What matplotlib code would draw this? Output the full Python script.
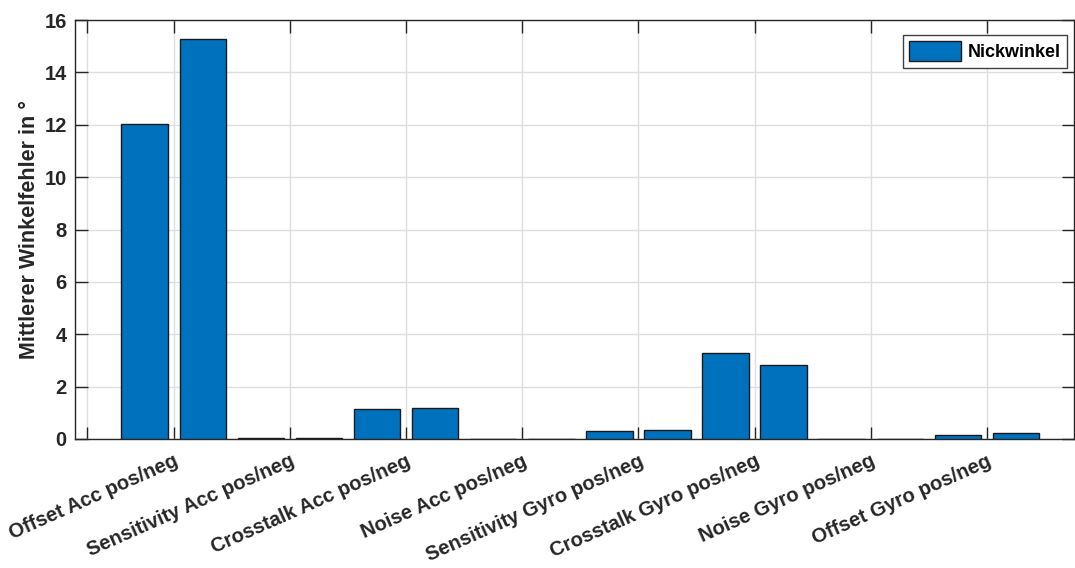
import matplotlib
matplotlib.use("Agg")
import matplotlib.pyplot as plt
import numpy as np

plt.rcParams['font.family'] = ['Liberation Sans', 'DejaVu Sans']
plt.rcParams['font.weight'] = 'bold'

# Mean pitch-angle error for each disturbance, positive then negative case
categories = [
    "Offset Acc pos/neg",
    "Sensitivity Acc pos/neg",
    "Crosstalk Acc pos/neg",
    "Noise Acc pos/neg",
    "Sensitivity Gyro pos/neg",
    "Crosstalk Gyro pos/neg",
    "Noise Gyro pos/neg",
    "Offset Gyro pos/neg",
]
nickwinkel = [12.02, 15.28, 0.05, 0.05, 1.15, 1.18, 0.01, 0.01,
              0.30, 0.33, 3.29, 2.84, 0.01, 0.01, 0.16, 0.24]
series_name = "Nickwinkel"
y_ticks = [0, 2, 4, 6, 8, 10, 12, 14, 16]

text_col = '#262626'
bar_col = '#0072BD'

fig = plt.figure(figsize=(10.75, 5.68), dpi=100)
ax = fig.add_axes([75 / 1075, 1 - 439 / 568, 999 / 1075, 419 / 568])

x = np.arange(1, len(nickwinkel) + 1)
ax.bar(x, nickwinkel, width=0.8, color=bar_col, edgecolor='#1a1a1a',
       linewidth=1.0, label=series_name, zorder=3)

# one tick between each pos/neg pair, plus an unlabeled tick at 0
pair_centers = list(np.arange(1.5, len(nickwinkel) + 1, 2))
ax.set_xticks([0] + pair_centers)
ax.set_xticklabels([''] + categories, rotation=24, ha='right',
                   rotation_mode='anchor', fontsize=14.5, fontweight='bold',
                   color=text_col)
ax.set_xlim(-0.2, 17.0)
ax.set_ylim(0, 16)
ax.set_yticks(y_ticks)
ax.set_yticklabels([str(v) for v in y_ticks], fontsize=14.5,
                   fontweight='bold', color=text_col)

ax.tick_params(direction='in', length=9, width=1.0, color=text_col,
               top=True, right=True, pad=6)
ax.tick_params(axis='x', pad=9)
for s in ax.spines.values():
    s.set_color(text_col)
    s.set_linewidth(1.0)

ax.grid(True, color='#dedede', linewidth=1.0, zorder=0)
ax.set_axisbelow(True)

ax.set_ylabel("Mittlerer Winkelfehler in °", fontsize=15.5,
              fontweight='bold', color=text_col, labelpad=3)

leg = ax.legend(loc='upper right', bbox_to_anchor=(0.993, 0.964),
                frameon=True, fancybox=False,
                handlelength=2.9, handleheight=1.3, handletextpad=0.35,
                borderpad=0.35, borderaxespad=0.0,
                prop={'weight': 'bold', 'size': 13})
leg.get_frame().set_edgecolor('#404040')
leg.get_frame().set_linewidth(1.0)
leg.get_frame().set_alpha(1.0)
for t in leg.get_texts():
    t.set_color('black')

fig.savefig('out.png', dpi=100)
